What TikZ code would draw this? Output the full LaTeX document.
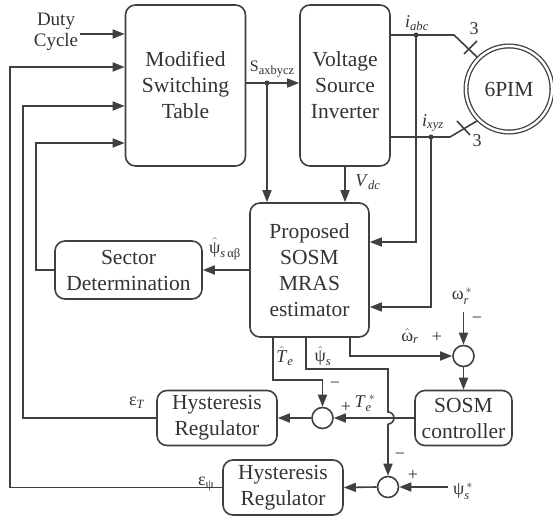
\documentclass[tikz,border=0pt]{standalone}
\usepackage{fontspec}
\usepackage{amsmath}
\setmainfont{Liberation Serif}
\newfontfamily\tnr{Liberation Serif}
\usetikzlibrary{arrows.meta,calc}
\definecolor{lc}{HTML}{404040}
\definecolor{tx}{HTML}{333333}
\newcommand{\bigf}{\tnr\fontsize{21.5}{26}\selectfont}
\newcommand{\labf}{\tnr\fontsize{18}{21}\selectfont}
\tikzset{
  ln/.style={line width=1.6pt, draw=lc},
  arr/.style={ln, -{Triangle[length=12pt,width=9pt]}},
  blk/.style={draw=lc, line width=1.6pt, rounded corners=10pt, inner sep=0pt, align=center, text=tx, font=\bigf},
  sumc/.style={circle, draw=lc, line width=1.6pt, minimum size=21pt, inner sep=0pt},
  lbl/.style={text=tx, font=\labf, inner sep=0pt},
  jdot/.style={circle, fill=lc, minimum size=5pt, inner sep=0pt},
}
\begin{document}
\begin{tikzpicture}[x=1pt,y=-1pt]
\fill[white] (0,0) rectangle (553,516);
\useasboundingbox (0,0) rectangle (553,516);

% blocks
\node[blk, minimum width=120pt, minimum height=161pt] (mst) at (185.5,85.5) {Modified\\Switching\\Table};
\node[blk, minimum width=90pt, minimum height=161pt] (vsi) at (345,85.5) {Voltage\\Source\\Inverter};
\node[blk, minimum width=119pt, minimum height=134pt] (pro) at (309.5,270) {Proposed\\SOSM\\MRAS\\estimator};
\node[blk, minimum width=147pt, minimum height=58pt] (sec) at (128.5,270) {Sector\\Determination};
\node[blk, minimum width=97pt, minimum height=55pt] (sosm) at (463.5,418) {SOSM\\controller};
\node[blk, minimum width=120pt, minimum height=55pt] (hy1) at (217,418) {Hysteresis\\Regulator};
\node[blk, minimum width=120pt, minimum height=55pt] (hy2) at (283,487.5) {Hysteresis\\Regulator};
\node[circle, draw=lc, double, double distance=2.4pt, line width=1.3pt, minimum size=86pt, inner sep=0pt, outer sep=2pt, font=\bigf, text=tx] (mot) at (509,89) {6PIM};

% summing junctions
\node[sumc] (s1) at (463.5,356) {};
\node[sumc] (s2) at (322.5,418) {};
\node[sumc] (s3) at (388,487) {};

% coordinates
\coordinate (duty) at (80,34);
\coordinate (fb1) at (10,67);
\coordinate (fb2) at (23,106);
\coordinate (fb3) at (36,143);
\coordinate (sj) at (267,83);
\coordinate (ja) at (416,35);
\coordinate (jx) at (431,137);
\coordinate (ka) at (454,35);
\coordinate (kx) at (450,137);
\coordinate (pa) at (416,242);
\coordinate (px) at (431,307);
\coordinate (wr) at (350,356);
\coordinate (wstar) at (463.5,312);
\coordinate (te1) at (273,380);
\coordinate (ps1) at (306,369);
\coordinate (ps2) at (388,369);
\coordinate (hopa) at (388,412);
\coordinate (hopb) at (388,424);
\coordinate (psstar) at (448,487);

% Duty cycle
\node[lbl, align=center, font=\tnr\fontsize{19}{21}\selectfont] (dc) at (56,32) {Duty\\Cycle};
\draw[arr] (duty) -- (duty -| mst.west);

% feedback to switching table
\draw[arr] (hy2.west) -| (fb1) -- (fb1 -| mst.west);
\draw[arr] (hy1.west) -| (fb2) -- (fb2 -| mst.west);
\draw[arr] (sec.west) -| (fb3) -- (fb3 -| mst.west);

% switching signals
\draw[arr] (sj -| mst.east) -- (sj -| vsi.west);
\draw[arr] (sj) -- (sj |- pro.north);
\node[jdot] at (sj) {};
\node[lbl] (slab) at (272,69) {\fontsize{16}{18}\selectfont S\raisebox{-3.5pt}{\fontsize{12.5}{14}\selectfont axbycz}};

% motor connections
\draw[ln] (ja -| vsi.east) -- (ka) -- (mot.135);
\draw[ln] (jx -| vsi.east) -- (kx) -- (mot.225);
\draw[ln] (464,54) -- (477,41);
\draw[ln] (457,121) -- (470,135);
\node[lbl] at (474,29) {3};
\node[lbl] at (477,141) {3};
\draw[arr] (ja) -- (pa) -- (pa -| pro.east);
\draw[arr] (jx) -- (px) -- (px -| pro.east);
\node[jdot] at (ja) {};
\node[jdot] at (jx) {};
\node[lbl] at (417,23) {$\text{\textit{i}}_{\text{\textit{abc}}}$};
\node[lbl] at (433,123) {$\text{\textit{i}}_{\text{\textit{xyz}}}$};

% Vdc
\draw[arr] (vsi.south) -- (vsi.south |- pro.north);
\node[lbl] at (368,182) {$\text{\textit{V}}_{\text{\textit{dc}}}$};

% sector
\draw[arr] (pro.west) -- (sec.east);
\node[lbl] at (225,249) {$\hat{\text{ψ}}_{\text{\textit{s}}\,\text{αβ}}$};

% speed loop
\draw[arr] (wr |- pro.south) -- (wr) -- (s1.west);
\draw[arr] (wstar) -- (s1.north);
\draw[arr] (s1.south) -- (sosm.north);
\node[lbl] at (462,296) {$\text{ω}_{\text{\textit{r}}}^{\,*}$};
\node[lbl] at (477,320) {−};
\node[lbl] at (410,336) {$\hat{\text{ω}}_{\text{\textit{r}}}$};
\node[lbl] at (437,337) {+};

% torque loop
\draw[arr] (sosm.west) -- (s2.east);
\draw[arr] (te1 |- pro.south) -- (te1) -| (s2.north);
\draw[arr] (s2.west) -- (hy1.east);
\node[lbl] at (285,356) {$\hat{\text{\textit{T}}}_{\text{\textit{e}}}$};
\node[lbl] at (335,385) {−};
\node[lbl] at (346,407) {+};
\node[lbl] at (365,403) {$\text{\textit{T}}_{\text{\textit{e}}}^{\;*}$};
\node[lbl] at (137,403) {$\text{ε}_{\text{\textit{T}}}$};

% flux loop
\draw[ln] (ps1 |- pro.south) -- (ps1) -- (ps2) -- (hopa) arc[start angle=-90, end angle=90, radius=6];
\draw[arr] (hopb) -- (s3.north);
\draw[arr] (psstar) -- (s3.east);
\draw[arr] (s3.west) -- (hy2.east);
\node[lbl] at (323,356) {$\hat{\text{ψ}}_{\text{\textit{s}}}$};
\node[lbl] at (400,456) {−};
\node[lbl] at (413,475) {+};
\node[lbl] at (463,491) {$\text{ψ}_{\text{\textit{s}}}^{\,*}$};
\node[lbl] at (206,484) {$\text{ε}_{\text{ψ}}$};
\end{tikzpicture}
\end{document}
